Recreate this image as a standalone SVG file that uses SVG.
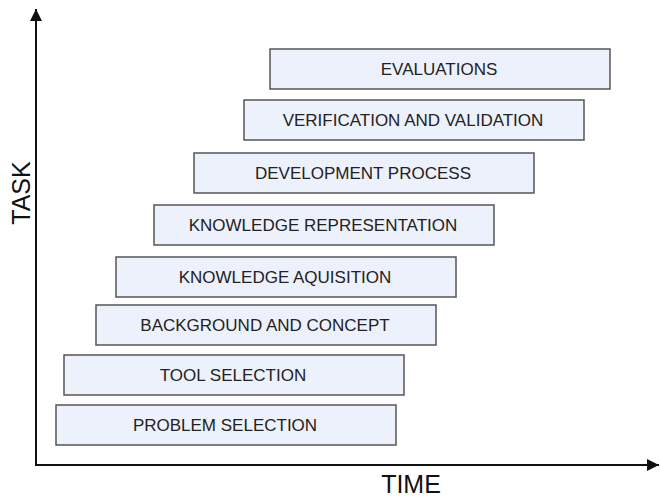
<svg xmlns="http://www.w3.org/2000/svg" width="660" height="497" viewBox="0 0 660 497">
<style>
.box{fill:#edf1fb;stroke:#555;stroke-width:1.5}
.lbl{font-family:"Liberation Sans",Arial,sans-serif;font-size:17px;fill:#222;text-anchor:middle;dominant-baseline:central}
.ax{font-family:"Liberation Sans",Arial,sans-serif;font-size:25px;fill:#111;text-anchor:middle}
.axis{stroke:#111;stroke-width:2;fill:none}
</style>
<defs>
<marker id="ah" viewBox="0 0 10 10" refX="10" refY="5" markerWidth="12" markerHeight="12" markerUnits="userSpaceOnUse" orient="auto">
<path d="M0,0 L10,5 L0,10 z" fill="#111"/>
</marker>
</defs>
<rect width="660" height="497" fill="#fff"/>
<g id="axes">
<line class="axis" x1="36" y1="466" x2="36" y2="9" marker-end="url(#ah)"/>
<line class="axis" x1="35" y1="465" x2="659" y2="465" marker-end="url(#ah)"/>
</g>
<text class="ax" transform="translate(30,193) rotate(-90)">TASK</text>
<text class="ax" x="411" y="493">TIME</text>
<g id="n1"><rect class="box" x="270" y="49" width="340" height="40"/><text class="lbl" x="439" y="69">EVALUATIONS</text></g>
<g id="n2"><rect class="box" x="244" y="100" width="340" height="40"/><text class="lbl" x="413" y="120">VERIFICATION AND VALIDATION</text></g>
<g id="n3"><rect class="box" x="194" y="153" width="340" height="40"/><text class="lbl" x="363" y="173">DEVELOPMENT PROCESS</text></g>
<g id="n4"><rect class="box" x="154" y="205" width="340" height="40"/><text class="lbl" x="323" y="225">KNOWLEDGE REPRESENTATION</text></g>
<g id="n5"><rect class="box" x="116" y="257" width="340" height="40"/><text class="lbl" x="285" y="277">KNOWLEDGE AQUISITION</text></g>
<g id="n6"><rect class="box" x="96" y="305" width="340" height="40"/><text class="lbl" x="265" y="325">BACKGROUND AND CONCEPT</text></g>
<g id="n7"><rect class="box" x="64" y="355" width="340" height="40"/><text class="lbl" x="233" y="375">TOOL SELECTION</text></g>
<g id="n8"><rect class="box" x="56" y="405" width="340" height="40"/><text class="lbl" x="225" y="425">PROBLEM SELECTION</text></g>
</svg>
